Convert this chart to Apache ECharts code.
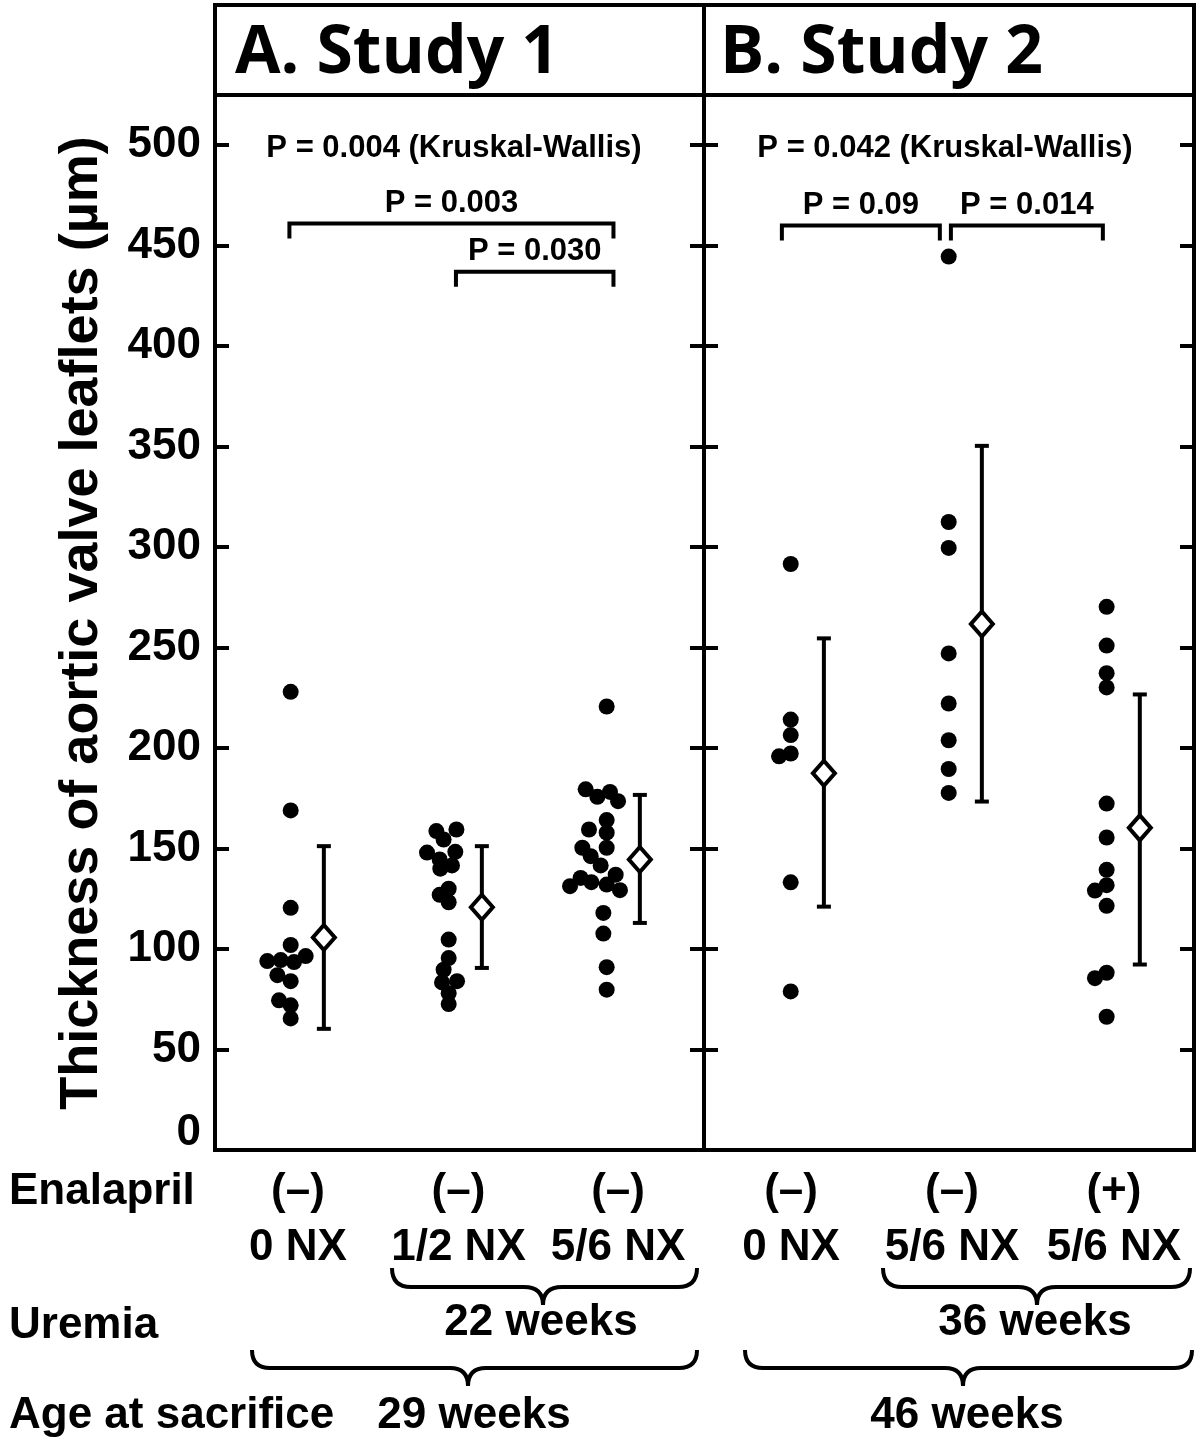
<!DOCTYPE html>
<html>
<head>
<meta charset="utf-8">
<script src="https://cdn.jsdelivr.net/npm/echarts@6/dist/echarts.min.js"></script>
<style>
  html, body { margin: 0; background: #fff; }
  #chart { width: 1200px; height: 1439px; }
</style>
</head>
<body>
<div id="chart"></div>
<script>
// leaflet thickness (µm) per animal: [horizontal jitter, value]
const a0NX = [[0, 228], [0, 169], [0, 120.5], [0, 102], [-0.148, 94], [-0.063, 94.5], [0.021, 93.5], [0.095, 96.5],
  [-0.084, 87], [0, 84], [-0.074, 74.5], [0, 72], [0, 65.5]];
const aHalfNX = [[-0.078, 158.7], [0.049, 159.5], [-0.032, 154.5], [-0.137, 148], [0.042, 148.4], [-0.057, 144.6],
  [0.021, 141.6], [-0.053, 140], [0, 130], [-0.057, 127], [0, 123.3], [0, 104.7], [0, 95.5], [-0.032, 89.7],
  [-0.042, 83.4], [0.053, 84], [0, 78], [0, 72.6]];
const aFiveSixNX = [[0, 220.7], [-0.133, 179.5], [-0.059, 175.8], [0.021, 178.2], [0.072, 173.6], [0, 164.2],
  [-0.112, 159.5], [0, 157.9], [0, 150.4], [-0.154, 150.4], [-0.101, 146.2], [-0.038, 141.6], [-0.165, 135.4],
  [0.057, 137], [-0.232, 131.3], [-0.097, 133.3], [0, 132.1], [0.084, 129.3], [-0.021, 118], [-0.021, 107.7],
  [0, 91], [0, 79.8]];
const b0NX = [[0, 291.6], [0, 214.2], [0, 206.5], [0, 197.3], [-0.074, 195.9], [0, 133.2], [0, 78.9]];
const bFiveSixNX = [[0, 444.6], [0, 312.5], [0, 299.6], [0, 247.1], [0, 222.2], [0, 203.9], [0, 189.6], [0, 177.7]];
const bFiveSixNXEnal = [[0, 270.3], [0, 251], [0, 237.3], [0, 230.2], [0, 172.4], [0, 155.5], [0, 139.4],
  [0, 131.8], [-0.074, 129.1], [0, 121.5], [0, 88.2], [-0.074, 85.5], [0, 66.3]];

// mean and error bar limits
const meanA = [105.8, 120.8, 144.6];
const upperA = [151.2, 151.2, 176.7];
const lowerA = [60.3, 90.6, 113.0];
const meanB = [187.5, 261.7, 160.3];
const upperB = [254.6, 350.4, 226.7];
const lowerB = [121.1, 173.4, 92.3];

// group labels
const enalaprilA = ['(–)', '(–)', '(–)'];
const enalaprilB = ['(–)', '(–)', '(+)'];
const nxA = ['0 NX', '1/2 NX', '5/6 NX'];
const nxB = ['0 NX', '5/6 NX', '5/6 NX'];

// p values
const kwA = 'P = 0.004 (Kruskal-Wallis)';
const kwB = 'P = 0.042 (Kruskal-Wallis)';
const pairA = ['P = 0.003', 'P = 0.030'];
const pairB = ['P = 0.09', 'P = 0.014'];

const yTicks = [0, 50, 100, 150, 200, 250, 300, 350, 400, 450, 500];

// layout
const FONT = "'Liberation Sans', Arial, Helvetica, sans-serif";
const MEAN_DX = 0.21;
const labelPosA = [1.046, 2.062, 3.072];
const labelPosB = [1.002, 2.021, 3.046];
const bracketA = [[0.992, 3.043, 461], [2.046, 3.043, 437]];
const bracketB = [[0.944, 1.944, 460], [2.014, 2.976, 460]];

const chart = echarts.init(document.getElementById('chart'));

function dots(groups) {
  const out = [];
  groups.forEach((g, i) => g.forEach(d => out.push([i + 1 + d[0], d[1]])));
  return out;
}

function errorItem(params, api) {
  const x = api.value(0);
  const lo = api.coord([x, api.value(1)]);
  const hi = api.coord([x, api.value(2)]);
  const w = 7;
  const st = { stroke: '#000', lineWidth: 4 };
  return {
    type: 'group',
    children: [
      { type: 'line', shape: { x1: lo[0], y1: lo[1], x2: hi[0], y2: hi[1] }, style: st },
      { type: 'line', shape: { x1: lo[0] - w, y1: lo[1], x2: lo[0] + w, y2: lo[1] }, style: st },
      { type: 'line', shape: { x1: hi[0] - w, y1: hi[1], x2: hi[0] + w, y2: hi[1] }, style: st },
    ],
  };
}

function bracketItem(labels) {
  return (params, api) => {
    const p1 = api.coord([api.value(0), api.value(2)]);
    const p2 = api.coord([api.value(1), api.value(2)]);
    return {
      type: 'group',
      children: [
        {
          type: 'polyline',
          shape: { points: [[p1[0], p1[1] + 15], p1, p2, [p2[0], p2[1] + 15]] },
          style: { stroke: '#000', lineWidth: 4, fill: null },
        },
        {
          type: 'text',
          style: {
            text: labels[params.dataIndex], x: (p1[0] + p2[0]) / 2, y: p1[1] - 20,
            align: 'center', verticalAlign: 'middle', fill: '#000', font: 'bold 31px ' + FONT,
          },
        },
      ],
    };
  };
}

function yAxis(grid, pos, labels) {
  return {
    gridIndex: grid, type: 'value', position: pos, min: 0, max: 525, interval: 50,
    axisLine: { show: false }, splitLine: { show: false },
    axisTick: { show: true, inside: true, length: 14, lineStyle: { color: '#000', width: 4 } },
    axisLabel: {
      show: labels, showMaxLabel: false, margin: 14, color: '#000',
      fontFamily: FONT, fontWeight: 'bold', fontSize: 44,
      formatter: v => (v === yTicks[0] ? '{z|' + v + '}' : String(v)),
      rich: { z: { fontFamily: FONT, fontWeight: 'bold', fontSize: 44, color: '#000', padding: [0, 0, 34, 0] } },
    },
  };
}

function xAxis(grid, min, max, pos, enal, nx) {
  const txt = { fontFamily: FONT, fontWeight: 'bold', fontSize: 44, color: '#000', lineHeight: 56 };
  return {
    gridIndex: grid, type: 'value', min: min, max: max,
    axisLine: { show: false }, axisTick: { show: false }, splitLine: { show: false },
    axisLabel: {
      customValues: pos, margin: 14,
      formatter: v => {
        let i = 0;
        pos.forEach((p, k) => { if (Math.abs(p - v) < Math.abs(pos[i] - v)) i = k; });
        return '{e|' + enal[i] + '}\n{g|' + nx[i] + '}';
      },
      rich: { e: txt, g: txt },
    },
  };
}

// curly brace made of quadratic curves and straight lines
function brace(L, R, C, top, line, tip) {
  const r = line - top;
  const st = { stroke: '#000', lineWidth: 4, fill: null };
  const q = (x1, y1, cx, cy, x2, y2) => ({
    type: 'bezierCurve', shape: { x1: x1, y1: y1, cpx1: cx, cpy1: cy, x2: x2, y2: y2 }, style: st,
  });
  const l = (x1, x2) => ({ type: 'line', shape: { x1: x1, y1: line, x2: x2, y2: line }, style: st });
  return {
    type: 'group',
    children: [
      q(L, top, L, line, L + r, line),
      l(L + r, C - r),
      q(C - r, line, C, line, C, tip),
      q(C, tip, C, line, C + r, line),
      l(C + r, R - r),
      q(R - r, line, R, line, R, top),
    ],
  };
}

const rowText = (text, x, y, align) => ({
  type: 'text', x: x, y: y,
  style: { text: text, fill: '#000', font: 'bold 44px ' + FONT, align: align, verticalAlign: 'middle' },
});

const dotStyle = { color: '#000', opacity: 1 };
const meanStyle = { color: '#fff', borderColor: '#000', borderWidth: 4, opacity: 1 };

const option = {
  backgroundColor: '#fff',
  animation: false,
  grid: [
    { left: 215, top: 95, width: 489, height: 1055, show: true, borderColor: '#000', borderWidth: 4 },
    { left: 704, top: 95, width: 490, height: 1055, show: true, borderColor: '#000', borderWidth: 4 },
  ],
  xAxis: [
    xAxis(0, 0.521, 3.616, labelPosA, enalaprilA, nxA),
    xAxis(1, 0.451, 3.553, labelPosB, enalaprilB, nxB),
  ],
  yAxis: [
    yAxis(0, 'left', true),
    yAxis(0, 'right', false),
    yAxis(1, 'left', false),
    yAxis(1, 'right', false),
  ],
  series: [
    {
      type: 'scatter', xAxisIndex: 0, yAxisIndex: 0, symbol: 'circle', symbolSize: 16,
      itemStyle: dotStyle, data: dots([a0NX, aHalfNX, aFiveSixNX]),
    },
    {
      type: 'scatter', xAxisIndex: 1, yAxisIndex: 2, symbol: 'circle', symbolSize: 16,
      itemStyle: dotStyle, data: dots([b0NX, bFiveSixNX, bFiveSixNXEnal]),
    },
    {
      type: 'custom', xAxisIndex: 0, yAxisIndex: 0, renderItem: errorItem, encode: { x: 0, y: [1, 2] },
      data: meanA.map((m, i) => [i + 1 + MEAN_DX, lowerA[i], upperA[i]]), z: 3,
    },
    {
      type: 'custom', xAxisIndex: 1, yAxisIndex: 2, renderItem: errorItem, encode: { x: 0, y: [1, 2] },
      data: meanB.map((m, i) => [i + 1 + MEAN_DX, lowerB[i], upperB[i]]), z: 3,
    },
    {
      type: 'scatter', xAxisIndex: 0, yAxisIndex: 0, symbol: 'diamond', symbolSize: [22, 25], z: 5,
      itemStyle: meanStyle, data: meanA.map((m, i) => [i + 1 + MEAN_DX, m]),
    },
    {
      type: 'scatter', xAxisIndex: 1, yAxisIndex: 2, symbol: 'diamond', symbolSize: [22, 25], z: 5,
      itemStyle: meanStyle, data: meanB.map((m, i) => [i + 1 + MEAN_DX, m]),
    },
    {
      type: 'custom', xAxisIndex: 0, yAxisIndex: 0, renderItem: bracketItem(pairA),
      encode: { x: [0, 1], y: 2 }, data: bracketA, clip: false,
    },
    {
      type: 'custom', xAxisIndex: 1, yAxisIndex: 2, renderItem: bracketItem(pairB),
      encode: { x: [0, 1], y: 2 }, data: bracketB, clip: false,
    },
  ],
  graphic: [
    // panel title box
    { type: 'rect', shape: { x: 215, y: 5, width: 979, height: 90 }, style: { fill: null, stroke: '#000', lineWidth: 4 } },
    { type: 'line', shape: { x1: 704, y1: 5, x2: 704, y2: 95 }, style: { stroke: '#000', lineWidth: 4 } },
    {
      type: 'text', x: 235, y: 54,
      style: { text: 'A. Study 1', fill: '#000', font: "bold 66px 'Open Sans', sans-serif", verticalAlign: 'middle' },
    },
    {
      type: 'text', x: 720, y: 54,
      style: { text: 'B. Study 2', fill: '#000', font: "bold 66px 'Open Sans', sans-serif", verticalAlign: 'middle' },
    },
    {
      type: 'text', x: 454, y: 148,
      style: { text: kwA, fill: '#000', font: 'bold 31px ' + FONT, align: 'center', verticalAlign: 'middle' },
    },
    {
      type: 'text', x: 945, y: 148,
      style: { text: kwB, fill: '#000', font: 'bold 31px ' + FONT, align: 'center', verticalAlign: 'middle' },
    },
    // y axis title
    {
      type: 'text', x: 82, y: 623, rotation: Math.PI / 2,
      style: {
        text: 'Thickness of aortic valve leaflets (µm)', fill: '#000', font: 'bold 54px ' + FONT,
        align: 'center', verticalAlign: 'middle',
      },
    },
    // bottom rows
    rowText('Enalapril', 9, 1192, 'left'),
    rowText('Uremia', 9, 1326, 'left'),
    rowText('Age at sacrifice', 9, 1416, 'left'),
    rowText('22 weeks', 541, 1323, 'center'),
    rowText('36 weeks', 1035, 1323, 'center'),
    rowText('29 weeks', 474, 1416, 'center'),
    rowText('46 weeks', 967, 1416, 'center'),
    brace(392, 697, 543, 1268, 1287, 1305),
    brace(883, 1190, 1037, 1268, 1287, 1305),
    brace(252, 697, 468, 1350, 1368, 1386),
    brace(745, 1192, 963, 1350, 1368, 1386),
  ],
};

chart.setOption(option);
</script>
</body>
</html>
